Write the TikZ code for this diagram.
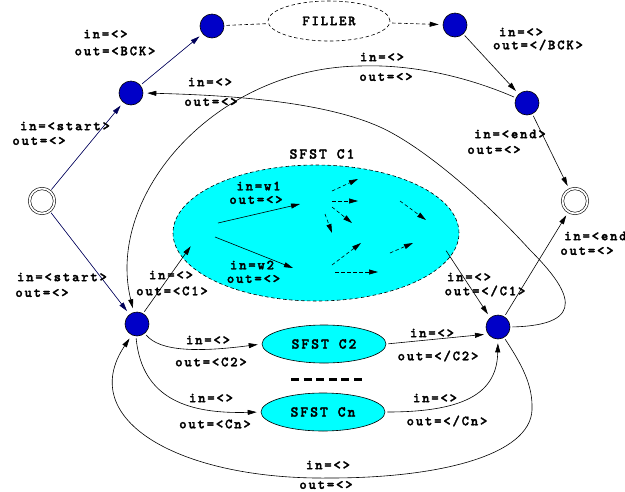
\documentclass[tikz,border=0pt]{standalone}
\usepackage{fontspec}
\setmonofont{lmmonolt10-bold.otf}[LetterSpace=13, FakeBold=2]
\usetikzlibrary{arrows.meta,shapes.geometric}
\definecolor{nodeblue}{RGB}{0,0,200}
\definecolor{linenavy}{RGB}{0,0,90}
\definecolor{sfstcyan}{RGB}{0,255,255}
\newcommand{\lblfont}{\ttfamily\fontsize{14}{16}\selectfont}
\newcommand{\sfstfont}{\ttfamily\fontsize{15}{17}\selectfont}
\tikzset{
  state/.style={circle, draw, fill=nodeblue, minimum size=24pt, inner sep=0pt, line width=0.6pt},
  final/.style={circle, draw, double, double distance=1.8pt, minimum size=25pt, inner sep=0pt, line width=0.6pt},
  lbl/.style={font=\lblfont, inner sep=0pt, anchor=center},
  sfst/.style={ellipse, draw, fill=sfstcyan, font=\sfstfont, inner sep=0pt, line width=0.6pt},
  link/.style={-{Triangle[length=9pt,width=5pt]}, line width=0.6pt, shorten >=4pt, shorten <=2pt},
  navylink/.style={link, draw=linenavy, fill=linenavy},
  dashline/.style={dash pattern=on 3.5pt off 2.5pt}
}
\begin{document}
\begin{tikzpicture}[x=1pt,y=-1pt]
    \useasboundingbox (0,0) rectangle (625,491);
    % states
    \node[final] (start) at (42,201) {};
    \node[final] (stop) at (575,201) {};
    \node[state] (bck) at (131,93) {};
    \node[state] (fil) at (212,26) {};
    \node[state] (filend) at (455,25) {};
    \node[state] (bckend) at (527,103) {};
    \node[state] (cin) at (137,324) {};
    \node[state] (cout) at (498,327) {};
    % sub transducers
    \node[sfst, dashline, minimum width=286pt, minimum height=136pt] (c1) at (316,233) {};
    \node[lbl, font=\sfstfont] (c1name) at (322,154) {SFST C1};
    \node[sfst, minimum width=124pt, minimum height=38pt] (c2) at (324,344) {SFST C2};
    \node[sfst, minimum width=124pt, minimum height=38pt] (cn) at (323,412) {SFST Cn};
    \node[ellipse, draw, dashline, line width=0.6pt, minimum width=122pt, minimum height=40pt, font=\lblfont] (filler) at (329,21) {FILLER};
    \draw[line width=3pt, dash pattern=on 8pt off 4.6pt] (291,379) -- (363,379);
    \coordinate (c1in) at (193,243);
    \coordinate (c1out) at (445,249);
    % background branch
    \draw[navylink] (start) -- (bck);
    \draw[navylink] (bck) -- (fil);
    \draw[dashline, line width=0.6pt, shorten <=2pt] (fil) -- (filler);
    \draw[link, dashline] (filler) -- (filend);
    \draw[link] (filend) -- (bckend);
    \draw[link] (bckend) -- (stop);
    \draw[link] (bckend.155) .. controls (470,78) and (415,64) .. (360,66)
        .. controls (215,68) and (105,195) .. (cin.105);
    % class branch
    \draw[navylink] (start) -- (cin);
    \draw[link] (cin.60) -- (c1in);
    \draw[link] (c1out) -- (cout.130);
    \draw[link] (cin.-50) .. controls (160,352) and (200,352) .. (c2.west);
    \draw[link] (c2.east) -- (cout.215);
    \draw[link] (cin.-95) .. controls (142,400) and (190,414) .. (cn.west);
    \draw[link] (cn.east) .. controls (470,412) and (497,390) .. (cout.south);
    \draw[link] (cout) -- (stop);
    \draw[link] (cout.east) .. controls (590,325) and (570,290) .. (530,250)
        .. controls (480,195) and (420,145) .. (380,127)
        .. controls (320,100) and (220,95) .. (bck.east);
    \draw[link] (cout.-60) .. controls (522,365) and (533,385) .. (532,410)
        .. controls (530,455) and (440,478) .. (330,478)
        .. controls (180,480) and (75,420) .. (cin.-115);
    % inside C1
    \coordinate (w1a) at (218,223);
    \coordinate (w1b) at (300,204);
    \coordinate (w2a) at (215,237);
    \coordinate (w2b) at (293,268);
    \draw[link, shorten >=0pt, shorten <=0pt] (w1a) -- (w1b);
    \draw[link, shorten >=0pt, shorten <=0pt] (w2a) -- (w2b);
    \foreach \xa/\ya/\xb/\yb in {332/191/358/179, 332/201/358/201, 332/207/352/223,
        325/214/332/233, 400/201/426/220, 332/265/361/243, 390/253/413/243, 335/272/378/272}
        \draw[link, dashline, shorten >=0pt, shorten <=0pt] (\xa,\ya) -- (\xb,\yb);
    % labels
    \node[lbl] (l1) at (105.5,34) {in=<>};
    \node[lbl] (l2) at (115,51) {out=<BCK>};
    \node[lbl] (l3) at (521,32) {in=<>};
    \node[lbl] (l4) at (538,45) {out=</BCK>};
    \node[lbl] (l5) at (65,126) {in=<start>};
    \node[lbl] (l6) at (39,141) {out=<>};
    \node[lbl] (l7) at (210,82) {in=<>};
    \node[lbl] (l8) at (211,102) {out=<>};
    \node[lbl] (l9) at (382,57) {in=<>};
    \node[lbl] (l10) at (386,77) {out=<>};
    \node[lbl] (l11) at (510,134) {in=<end>};
    \node[lbl] (l12) at (494,150) {out=<>};
    \node[lbl] (l13) at (258.5,186) {in=w1};
    \node[lbl] (l14) at (256,200) {out=<>};
    \node[lbl] (l15) at (252,265) {in=w2};
    \node[lbl] (l16) at (253.5,279) {out=<>};
    \node[lbl] (l17) at (171,275) {in=<>};
    \node[lbl] (l18) at (172,291) {out=<C1>};
    \node[lbl] (l19) at (62,277) {in=<start>};
    \node[lbl] (l20) at (42,293) {out=<>};
    \node[lbl] (l21) at (600,236) {in=<end>};
    \node[lbl] (l22) at (587,251) {out=<>};
    \node[lbl] (l23) at (469,277) {in=<>};
    \node[lbl] (l24) at (485,291) {out=</C1>};
    \node[lbl] (l25) at (208,340) {in=<>};
    \node[lbl] (l26) at (211,362) {out=<C2>};
    \node[lbl] (l27) at (432,333) {in=<>};
    \node[lbl] (l28) at (438,356) {out=</C2>};
    \node[lbl] (l29) at (211,398) {in=<>};
    \node[lbl] (l30) at (215,424) {out=<Cn>};
    \node[lbl] (l31) at (435,398) {in=<>};
    \node[lbl] (l32) at (447,421) {out=</Cn>};
    \node[lbl] (l33) at (328,465) {in=<>};
    \node[lbl] (l34) at (326,485) {out=<>};
\end{tikzpicture}
\end{document}
